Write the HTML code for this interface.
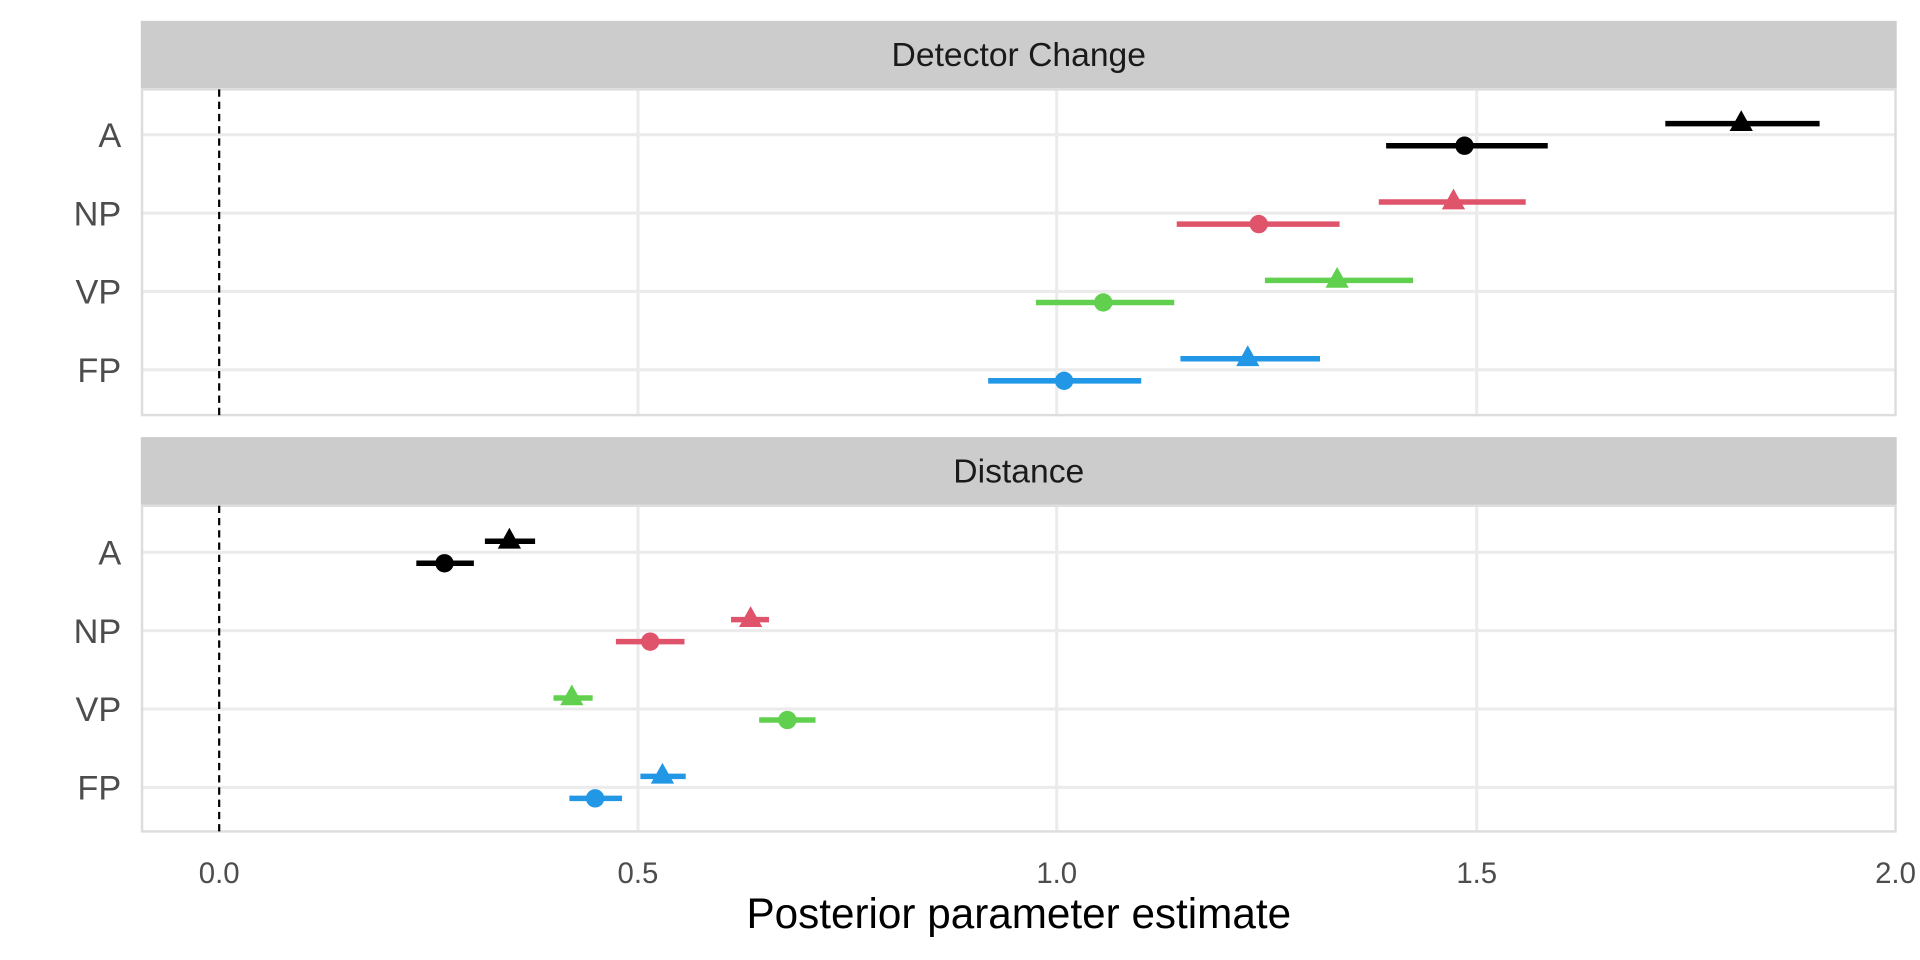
<!DOCTYPE html>
<html><head><meta charset="utf-8"><style>html,body{margin:0;padding:0;background:#fff}svg{display:block}</style></head>
<body>
<svg width="1920" height="960" viewBox="0 0 1568 784" xmlns="http://www.w3.org/2000/svg" font-family="Liberation Sans, sans-serif">
<defs>
<g id="tri"><polygon points="0,-11 9.5,6 -9.5,6"/></g>
</defs>
<rect x="115" y="17" width="1434" height="55" fill="#cccccc"/>
<text x="832" y="54" font-size="27.5" fill="#1a1a1a" text-anchor="middle">Detector Change</text>
<rect x="115" y="357" width="1434" height="55" fill="#cccccc"/>
<text x="832" y="394" font-size="27.5" fill="#1a1a1a" text-anchor="middle">Distance</text>
<g stroke="#ebebeb" stroke-width="2.5">
<line x1="115" x2="1549" y1="110" y2="110"/><line x1="115" x2="1549" y1="174" y2="174"/><line x1="115" x2="1549" y1="238" y2="238"/><line x1="115" x2="1549" y1="302" y2="302"/>
<line x1="115" x2="1549" y1="451" y2="451"/><line x1="115" x2="1549" y1="515" y2="515"/><line x1="115" x2="1549" y1="579" y2="579"/><line x1="115" x2="1549" y1="643" y2="643"/>
<line x1="521" x2="521" y1="72" y2="340"/><line x1="863" x2="863" y1="72" y2="340"/><line x1="1206" x2="1206" y1="72" y2="340"/>
<line x1="521" x2="521" y1="412" y2="680"/><line x1="863" x2="863" y1="412" y2="680"/><line x1="1206" x2="1206" y1="412" y2="680"/>
</g>
<rect x="116" y="73" width="1432" height="266" fill="none" stroke="#dddddd" stroke-width="2"/>
<rect x="116" y="413" width="1432" height="266" fill="none" stroke="#dddddd" stroke-width="2"/>
<g stroke="#000" stroke-width="1.8" stroke-dasharray="6,4">
<line x1="179" x2="179" y1="73" y2="339"/><line x1="179" x2="179" y1="413" y2="679"/>
</g>
<g font-size="28" fill="#4d4d4d" text-anchor="end">
<text x="99" y="120">A</text><text x="99" y="184">NP</text><text x="99" y="248">VP</text><text x="99" y="312">FP</text>
<text x="99" y="461">A</text><text x="99" y="525">NP</text><text x="99" y="589">VP</text><text x="99" y="653">FP</text>
</g>
<g font-size="24" fill="#4d4d4d" text-anchor="middle">
<text x="179" y="721">0.0</text><text x="521" y="721">0.5</text><text x="863" y="721">1.0</text><text x="1206" y="721">1.5</text><text x="1548" y="721">2.0</text>
</g>
<text x="832" y="758" font-size="34.5" fill="#000" text-anchor="middle">Posterior parameter estimate</text>
<g stroke-width="4.5">
<g fill="#000" stroke="#000">
<line x1="1360" x2="1486" y1="101" y2="101"/><use href="#tri" x="1422" y="101" stroke="none"/>
<line x1="1132" x2="1264" y1="119" y2="119"/><circle cx="1196" cy="119" r="7.5" stroke="none"/>
<line x1="396" x2="437" y1="442" y2="442"/><use href="#tri" x="416" y="442" stroke="none"/>
<line x1="340" x2="387" y1="460" y2="460"/><circle cx="363" cy="460" r="7.5" stroke="none"/>
</g>
<g fill="#DF536B" stroke="#DF536B">
<line x1="1126" x2="1246" y1="165" y2="165"/><use href="#tri" x="1187" y="165" stroke="none"/>
<line x1="961" x2="1094" y1="183" y2="183"/><circle cx="1028" cy="183" r="7.5" stroke="none"/>
<line x1="597" x2="628" y1="506" y2="506"/><use href="#tri" x="613" y="506" stroke="none"/>
<line x1="503" x2="559" y1="524" y2="524"/><circle cx="531" cy="524" r="7.5" stroke="none"/>
</g>
<g fill="#61D04F" stroke="#61D04F">
<line x1="1033" x2="1154" y1="229" y2="229"/><use href="#tri" x="1092" y="229" stroke="none"/>
<line x1="846" x2="959" y1="247" y2="247"/><circle cx="901" cy="247" r="7.5" stroke="none"/>
<line x1="452" x2="484" y1="570" y2="570"/><use href="#tri" x="467" y="570" stroke="none"/>
<line x1="620" x2="666" y1="588" y2="588"/><circle cx="643" cy="588" r="7.5" stroke="none"/>
</g>
<g fill="#2297E6" stroke="#2297E6">
<line x1="964" x2="1078" y1="293" y2="293"/><use href="#tri" x="1019" y="293" stroke="none"/>
<line x1="807" x2="932" y1="311" y2="311"/><circle cx="869" cy="311" r="7.5" stroke="none"/>
<line x1="523" x2="560" y1="634" y2="634"/><use href="#tri" x="541" y="634" stroke="none"/>
<line x1="465" x2="508" y1="652" y2="652"/><circle cx="486" cy="652" r="7.5" stroke="none"/>
</g>
</g>
</svg>
</body></html>
